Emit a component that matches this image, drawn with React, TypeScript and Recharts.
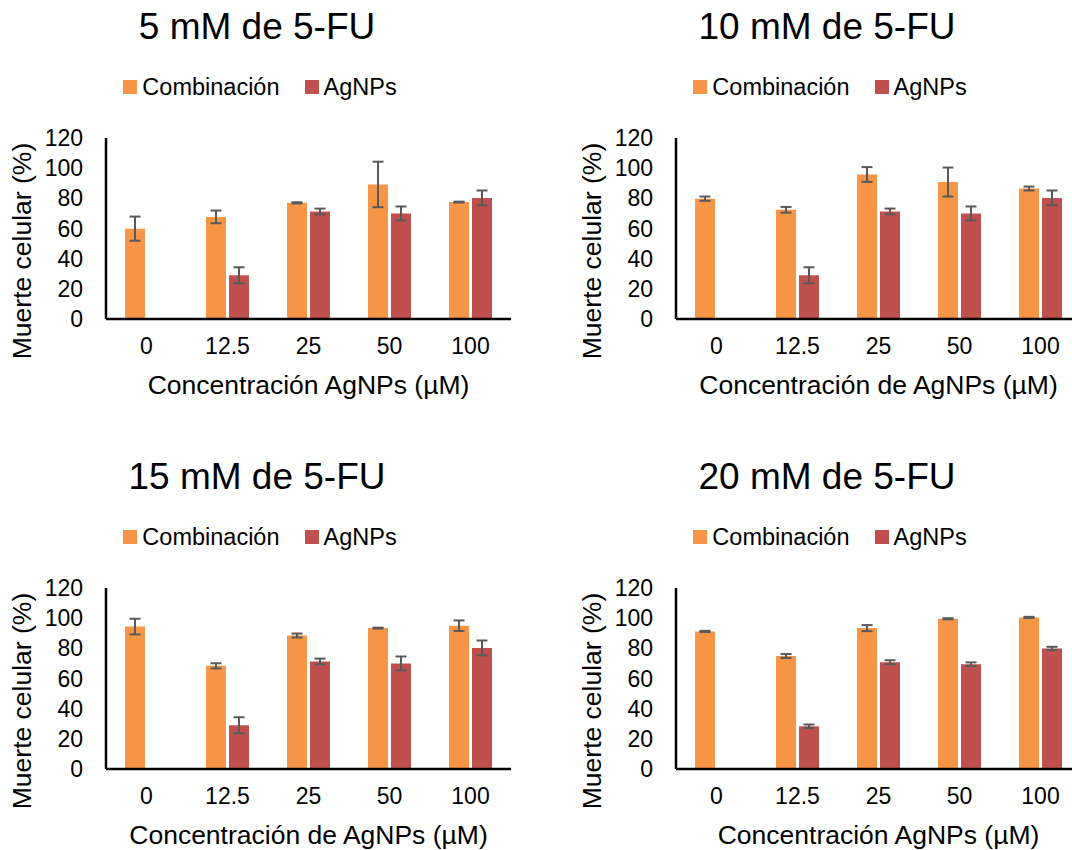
import { BarChart, Bar, XAxis, YAxis, ErrorBar, Legend } from "recharts";

const FONT = "'Liberation Sans', Arial, sans-serif";

const categories = ["0", "12.5", "25", "50", "100"];
const yTicks = [0, 20, 40, 60, 80, 100, 120];
const seriesOrder = ["Combinación", "AgNPs"];

const titles = ["5 mM de 5-FU", "10 mM de 5-FU", "15 mM de 5-FU", "20 mM de 5-FU"];
const xTitles = [
  "Concentración AgNPs (µM)",
  "Concentración de AgNPs (µM)",
  "Concentración de AgNPs (µM)",
  "Concentración AgNPs (µM)",
];

// Combinación (AgNPs + 5-FU), mean and error per panel
const comb5 = [59.9, 67.7, 77, 89.2, 77.5];
const comb5Err = [8, 4.2, 0.4, 15.1, 0.3];
const comb10 = [79.8, 72.4, 95.8, 90.8, 86.5];
const comb10Err = [1.4, 1.9, 4.9, 9.6, 1.3];
const comb15 = [94.4, 68.4, 88.5, 93.4, 95];
const comb15Err = [5.2, 1.7, 1.3, 0.3, 3.5];
const comb20 = [91.2, 74.9, 93.4, 99.6, 100.5];
const comb20Err = [0.4, 1.3, 2, 0.4, 0.4];

// AgNPs alone
const agnps = [null, 29, 71.3, 70, 80.3];
const agnpsErr = [null, 5.3, 1.9, 4.6, 4.9];
const agnps20 = [null, 28.3, 70.8, 69.5, 79.9];
const agnps20Err = [null, 1.2, 1.3, 1.2, 1.1];

const ORANGE = "#F79646";
const RED = "#C0504D";
const ERR = "#595959";

function buildRows(comb: number[], combErr: number[], ag: (number | null)[], agErr: (number | null)[]) {
  return categories.map((c, i) => ({
    cat: c,
    comb: comb[i],
    combErr: combErr[i],
    ag: ag[i],
    agErr: agErr[i],
  }));
}

const panels = [
  { left: 0, top: 0, rows: buildRows(comb5, comb5Err, agnps, agnpsErr) },
  { left: 570, top: 0, rows: buildRows(comb10, comb10Err, agnps, agnpsErr) },
  { left: 0, top: 450, rows: buildRows(comb15, comb15Err, agnps, agnpsErr) },
  { left: 570, top: 450, rows: buildRows(comb20, comb20Err, agnps20, agnps20Err) },
];

const renderLegend = (props: any) => {
  const items = [...(props.payload || [])].sort(
    (a: any, b: any) => seriesOrder.indexOf(a.value) - seriesOrder.indexOf(b.value)
  );
  return (
    <div
      style={{
        display: "flex",
        justifyContent: "center",
        alignItems: "center",
        gap: 25,
        fontSize: 23.5,
        lineHeight: "26px",
        fontFamily: FONT,
        color: "#000",
      }}
    >
      {items.map((it: any) => (
        <span key={it.value} style={{ display: "flex", alignItems: "center" }}>
          <span style={{ width: 14, height: 14, background: it.color, marginRight: 5, display: "inline-block" }} />
          {it.value}
        </span>
      ))}
    </div>
  );
};

function Panel({ left, top, rows, title, xTitle }: any) {
  return (
    <div style={{ position: "absolute", left, top, width: 520, height: 420 }}>
      <div
        style={{
          position: "absolute",
          left: 0,
          top: 8,
          width: 514,
          textAlign: "center",
          fontSize: 37,
          lineHeight: "37px",
          fontFamily: FONT,
          color: "#000",
        }}
      >
        {title}
      </div>
      <BarChart
        width={520}
        height={420}
        data={rows}
        margin={{ top: 138, right: 9, bottom: 21, left: 0 }}
        barSize={20}
        barGap={3}
      >
        <Legend
          verticalAlign="middle"
          layout="horizontal"
          content={renderLegend}
          wrapperStyle={{ top: 74, left: 0, width: 520 }}
        />
        <XAxis
          dataKey="cat"
          height={80}
          axisLine={{ stroke: "#000", strokeWidth: 2.5 }}
          tickLine={false}
          tickSize={0}
          tickMargin={19}
          interval={0}
          tick={{ fontSize: 23, fill: "#000", fontFamily: FONT }}
          label={{
            value: xTitle,
            position: "insideBottom",
            offset: 5,
            fontSize: 26.5,
            fill: "#000",
            fontFamily: FONT,
          }}
        />
        <YAxis
          width={106}
          domain={[0, 120]}
          ticks={yTicks}
          interval={0}
          axisLine={{ stroke: "#000", strokeWidth: 2.5 }}
          tickLine={false}
          tickSize={0}
          tickMargin={23}
          tick={{ fontSize: 23, fill: "#000", fontFamily: FONT }}
          label={{
            content: () => {
              const cx = 22;
              const cy = 251;
              return (
                <text
                  x={cx}
                  y={cy}
                  transform={`rotate(-90, ${cx}, ${cy})`}
                  textAnchor="middle"
                  dominantBaseline="central"
                  fontSize={26.5}
                  fill="#000"
                  fontFamily={FONT}
                >
                  Muerte celular (%)
                </text>
              );
            },
          }}
        />
        <Bar dataKey="comb" name="Combinación" fill={ORANGE} isAnimationActive={false}>
          <ErrorBar dataKey="combErr" width={5.5} stroke={ERR} strokeWidth={2} />
        </Bar>
        <Bar dataKey="ag" name="AgNPs" fill={RED} isAnimationActive={false}>
          <ErrorBar dataKey="agErr" width={5.5} stroke={ERR} strokeWidth={2} />
        </Bar>
      </BarChart>
    </div>
  );
}

export default function App() {
  return (
    <div
      style={{
        position: "absolute",
        left: 0,
        top: 0,
        width: 1072,
        height: 850,
        overflow: "hidden",
        background: "#fff",
        fontFamily: FONT,
      }}
    >
      {panels.map((p, i) => (
        <Panel key={i} left={p.left} top={p.top} rows={p.rows} title={titles[i]} xTitle={xTitles[i]} />
      ))}
    </div>
  );
}
